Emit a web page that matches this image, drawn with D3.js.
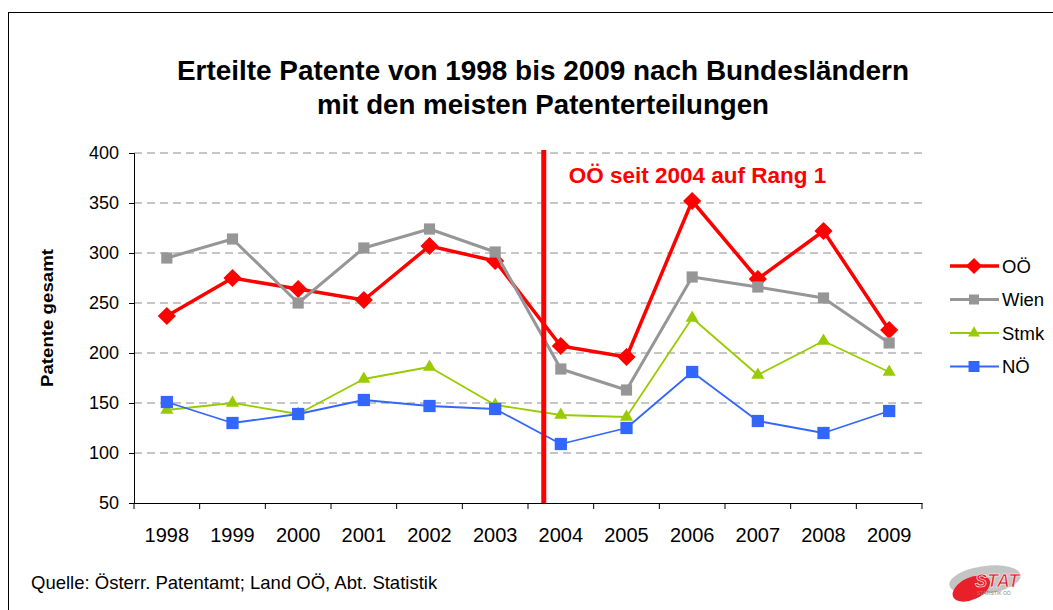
<!DOCTYPE html>
<html>
<head>
<meta charset="utf-8">
<script src="https://cdn.jsdelivr.net/npm/d3@7"></script>
<style>
  body { margin: 0; background: #fff; }
  text { font-family: "Liberation Sans", Arial, sans-serif; }
</style>
</head>
<body>
<main></main>
<script>
// data
const years = ["1998","1999","2000","2001","2002","2003","2004","2005","2006","2007","2008","2009"];
const ooe   = [237, 275, 264, 253, 307, 292, 207, 196, 352, 274, 322, 223];
const wien  = [295, 314, 250, 305, 324, 301, 184, 163, 276, 266, 255, 210];
const stmk  = [143, 150, 139, 174, 186, 148, 138, 136, 235, 178, 212, 181];
const noe   = [151, 130, 139, 153, 147, 144, 109, 125, 181, 132, 120, 142];
const yTicks = [50, 100, 150, 200, 250, 300, 350, 400];
const markerYear = "2004";   // OÖ ab 2004 auf Rang 1

const series = [
  {name: "OÖ",   values: ooe,  color: "#ff0000", width: 3.5, symbol: d3.symbolSquare, size: 165, rotate: 45},
  {name: "Wien", values: wien, color: "#969696", width: 3,   symbol: d3.symbolSquare, size: 125, rotate: 0},
  {name: "Stmk", values: stmk, color: "#99cc00", width: 1.8, symbol: d3.symbolTriangle, size: 75, rotate: 0},
  {name: "NÖ",   values: noe,  color: "#3366ff", width: 1.8, symbol: d3.symbolSquare, size: 150, rotate: 0}
];

var W = 1053, H = 610;
var svg = d3.select("main").append("svg")
  .attr("width", W).attr("height", H);

// frame
svg.append("rect")
  .attr("x", 8.5).attr("y", 12.5)
  .attr("width", 1060).attr("height", 620)
  .attr("fill", "none").attr("stroke", "#000").attr("stroke-width", 1);

var plotLeft = 134, plotRight = 922, plotTop = 153, plotBottom = 503;

var x = d3.scaleBand().domain(years).range([plotLeft, plotRight]);
var y = d3.scaleLinear().domain([50, 400]).range([plotBottom, plotTop]);

// title
svg.append("text")
  .attr("x", 543).attr("y", 80)
  .attr("text-anchor", "middle")
  .attr("font-size", 28).attr("font-weight", "bold")
  .attr("textLength", 732).attr("lengthAdjust", "spacingAndGlyphs")
  .text("Erteilte Patente von 1998 bis 2009 nach Bundesländern");
svg.append("text")
  .attr("x", 543).attr("y", 114)
  .attr("text-anchor", "middle")
  .attr("font-size", 28).attr("font-weight", "bold")
  .attr("textLength", 452).attr("lengthAdjust", "spacingAndGlyphs")
  .text("mit den meisten Patenterteilungen");

// gridlines
svg.append("g")
  .selectAll("line")
  .data(yTicks.slice(1))
  .enter()
  .append("line")
  .attr("x1", plotLeft).attr("x2", plotRight)
  .attr("y1", d => y(d)).attr("y2", d => y(d))
  .attr("stroke", "#8c8c8c")
  .attr("stroke-dasharray", "8,5");

// y axis
var yAxis = svg.append("g")
  .attr("transform", "translate(" + plotLeft + ",0)")
  .call(d3.axisLeft(y).tickValues(yTicks).tickSize(5).tickPadding(10));
yAxis.select(".domain").attr("stroke", "#000");
yAxis.selectAll("text").attr("font-size", 18).attr("fill", "#000")
  .style("font-family", "Liberation Sans, Arial, sans-serif");

// x axis
var xAxis = svg.append("g")
  .attr("transform", "translate(0," + plotBottom + ")")
  .call(d3.axisBottom(x).tickSize(0).tickPadding(25));
xAxis.select(".domain").attr("stroke", "#000");
xAxis.selectAll("text").attr("font-size", 20).attr("fill", "#000")
  .style("font-family", "Liberation Sans, Arial, sans-serif");
// category separators
svg.append("g")
  .selectAll("line")
  .data(years.concat(["end"]))
  .enter()
  .append("line")
  .attr("x1", (d, i) => i < years.length ? x(d) : x(years[years.length - 1]) + x.bandwidth())
  .attr("x2", (d, i) => i < years.length ? x(d) : x(years[years.length - 1]) + x.bandwidth())
  .attr("y1", plotBottom).attr("y2", plotBottom + 6)
  .attr("stroke", "#000");

// y label
svg.append("text")
  .attr("transform", "translate(53," + (y(235)) + ") rotate(-90)")
  .attr("text-anchor", "middle")
  .attr("font-size", 17).attr("font-weight", "bold")
  .attr("textLength", 138).attr("lengthAdjust", "spacingAndGlyphs")
  .text("Patente gesamt");

// series
var cx = d => x(d) + x.bandwidth() / 2;
series.forEach(s => {
  var line = d3.line()
    .x((d, i) => cx(years[i]))
    .y(d => y(d));
  svg.append("path")
    .datum(s.values)
    .attr("d", line)
    .attr("fill", "none")
    .attr("stroke", s.color)
    .attr("stroke-width", s.width)
    .attr("stroke-linejoin", "round");
  svg.append("g")
    .selectAll("path")
    .data(s.values)
    .enter()
    .append("path")
    .attr("d", d3.symbol().type(s.symbol).size(s.size))
    .attr("transform", (d, i) => "translate(" + cx(years[i]) + "," + y(d) + ") rotate(" + s.rotate + ")")
    .attr("fill", s.color);
});

// marker line 2004
var mx = x(markerYear) + x.bandwidth() * 0.24;
svg.append("line")
  .attr("x1", mx).attr("x2", mx)
  .attr("y1", y(403)).attr("y2", plotBottom)
  .attr("stroke", "#ff0000").attr("stroke-width", 5);
svg.append("text")
  .attr("x", mx + 25).attr("y", y(370))
  .attr("fill", "#ff0000")
  .attr("font-size", 22.5).attr("font-weight", "bold")
  .text("OÖ seit 2004 auf Rang 1");

// legend
var legend = svg.append("g").attr("id", "legend");
series.forEach((s, i) => {
  var ly = 266 + i * 33.5;
  legend.append("line")
    .attr("x1", 950).attr("x2", 999)
    .attr("y1", ly).attr("y2", ly)
    .attr("stroke", s.color).attr("stroke-width", s.width);
  legend.append("path")
    .attr("d", d3.symbol().type(s.symbol).size(s.size * 0.8))
    .attr("transform", "translate(974," + ly + ") rotate(" + s.rotate + ")")
    .attr("fill", s.color);
  legend.append("text")
    .attr("x", 1002).attr("y", ly + 6.5)
    .attr("font-size", 18.5)
    .text(s.name);
});

// source
svg.append("text")
  .attr("x", 31).attr("y", 589)
  .attr("font-size", 18.5)
  .text("Quelle: Österr. Patentamt; Land OÖ, Abt. Statistik");

// logo
var logo = svg.append("g").attr("transform", "translate(985,580)");
logo.append("ellipse").attr("rx", 36).attr("ry", 14).attr("fill", "#c4c4c4").attr("transform", "rotate(-8)");
logo.append("ellipse").attr("cx", -16).attr("cy", 2).attr("rx", 20).attr("ry", 11).attr("fill", "#e8202a").attr("transform", "rotate(-25)");
logo.append("text").attr("x", -10).attr("y", 7).attr("font-size", 18).attr("font-weight", "bold")
  .attr("font-style", "italic").attr("fill", "#e8202a").attr("stroke", "#fff").attr("stroke-width", 0.6)
  .text("STAT");
logo.append("text").attr("x", -8).attr("y", 15).attr("font-size", 5).attr("fill", "#888")
  .text("STATISTIK OÖ");
</script>
</body>
</html>
